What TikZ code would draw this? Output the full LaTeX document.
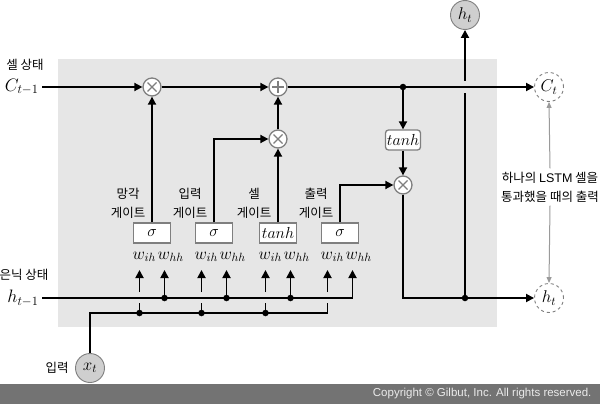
\RequirePackage{fix-cm}
\documentclass[tikz,border=0pt]{standalone}
\usepackage{fontspec}
\setmainfont{Liberation Sans}
\newfontfamily\kofont{Noto Sans CJK KR}
\usetikzlibrary{arrows.meta, positioning}

\definecolor{cellbg}{HTML}{E6E6E6}
\definecolor{opgray}{HTML}{7F7F7F}
\definecolor{iofill}{HTML}{CFCFCF}
\definecolor{barbg}{HTML}{737373}
\definecolor{notegray}{HTML}{9A9A9A}

\begin{document}
\begin{tikzpicture}[
    x=1pt, y=-1pt,
    line/.style={line width=1.8pt, black},
    arrow/.style={line, -{Triangle[length=8pt, width=8pt]}},
    dot/.style={circle, fill=black, inner sep=0pt, minimum size=6.5pt},
    op/.style={circle, draw=opgray, line width=1.3pt, fill=white,
        minimum size=18pt, inner sep=0pt},
    mult/.style={op, path picture={
        \draw[opgray, line width=1.4pt]
            ([shift={(-4.5,-4.5)}]path picture bounding box.center) -- ++(9,9)
            ([shift={(-4.5,4.5)}]path picture bounding box.center) -- ++(9,-9);}},
    add/.style={op, path picture={
        \draw[opgray, line width=1.4pt]
            ([shift={(-6,0)}]path picture bounding box.center) -- ++(12,0)
            ([shift={(0,-6)}]path picture bounding box.center) -- ++(0,12);}},
    gate/.style={rectangle, draw=opgray, line width=1.3pt, fill=white,
        minimum width=37pt, minimum height=20pt, inner sep=0pt,
        font=\fontsize{16}{18}\selectfont},
    act/.style={gate, rounded corners=3pt, minimum width=35pt},
    io/.style={circle, draw=opgray, line width=0.9pt, fill=iofill,
        minimum size=29pt, inner sep=0pt, font=\fontsize{17}{19}\selectfont},
    outcirc/.style={io, fill=white, dashed},
    label/.style={font=\kofont\fontsize{12.5}{19}\selectfont, align=center},
    wlabel/.style={anchor=base west, inner sep=0pt, font=\fontsize{17}{19}\selectfont},
    note/.style={font=\kofont\fontsize{12.5}{19}\selectfont, align=center},
]

\useasboundingbox (0,0) rectangle (600,404);

% 셀 영역
\fill[cellbg] (58,59) rectangle (497,327);

% 셀 상태 경로
\node[mult] (fmul) at (152,87) {};
\node[add]  (add)  at (278,87) {};
\node[mult] (imul) at (278,139) {};
\coordinate (csplit) at (403,87);
\node[act]  (tanhc) at (403,140) {$tanh$};
\node[mult] (omul) at (403,185) {};

% 입출력
\node[label] at (25,65) {셀 상태};
\node[anchor=east, font=\fontsize{18}{20}\selectfont] (cprev) at (42,87) {$C_{t-1}$};
\node[label] at (24,275) {은닉 상태};
\node[anchor=east, font=\fontsize{18}{20}\selectfont] (hprev) at (42,298) {$h_{t-1}$};
\node[io] (xt) at (90,368) {$x_t$};
\node[label, left=3pt of xt] (xlab) {입력};
\node[io] (htop) at (465,15) {$h_t$};
\node[outcirc] (ct) at (549,87) {$C_t$};
\node[outcirc] (ht) at (549,298) {$h_t$};

% 게이트
\node[gate] (fg) at (152,233) {$\sigma$};
\node[gate] (ig) at (214,233) {$\sigma$};
\node[gate] (cg) at (278,233) {$tanh$};
\node[gate] (og) at (340,233) {$\sigma$};
\node[label, anchor=east] at (149,203) {망각\\게이트};
\node[label, anchor=east] at (211,203) {입력\\게이트};
\node[label, anchor=east] at (275,203) {셀\\게이트};
\node[label, anchor=east] at (337,203) {출력\\게이트};

% 가중치 화살표
\foreach \g/\x in {fg/152, ig/214, cg/278, og/340} {
    \coordinate (\g-ih-top) at (\x-12.5,270);
    \coordinate (\g-ih-low) at (\x-12.5,292);
    \coordinate (\g-ih-stub) at (\x-12.5,303);
    \coordinate (\g-ih-in) at (\x-12.5,313);
    \coordinate (\g-hh-top) at (\x+12.5,270);
    \coordinate (\g-hh-in) at (\x+12.5,298);
    \node[wlabel] at (\x-19.5,259) {$w_{ih}$};
    \node[wlabel] at (\x+5.5,259) {$w_{hh}$};
    \draw[arrow] (\g-ih-low) -- (\g-ih-top);
}
\foreach \g in {fg, ig, cg} {
    \draw[line] (\g-ih-in) -- (\g-ih-stub);
    \draw[arrow] (\g-hh-in) -- (\g-hh-top);
    \node[dot] at (\g-ih-in) {};
    \node[dot] at (\g-hh-in) {};
}

% 은닉 상태 / 입력 선
\draw[arrow] (hprev.east) -| (og-hh-top);
\draw[line] (xt.north) |- (og-ih-in) -- (og-ih-stub);

% 셀 상태 선
\draw[arrow] (cprev.east) -- (fmul.west);
\draw[arrow] (fmul.east) -- (add.west);
\draw[arrow] (add.east) -- (ct.west);
\draw[arrow] (imul.north) -- (add.south);
\draw[arrow] (csplit) -- (tanhc.north);
\draw[arrow] (tanhc.south) -- (omul.north);
\node[dot] at (csplit) {};

% 게이트 출력
\draw[arrow] (fg.north) -- (fmul.south);
\draw[arrow] (ig.north) |- (imul.west);
\draw[arrow] (cg.north) -- (imul.south);
\draw[arrow] (og.north) |- (omul.west);

% 은닉 상태 출력
\coordinate (hsplit) at (465,298);
\coordinate (hgapb) at (465,93);
\coordinate (hgapt) at (465,81);
\draw[line] (omul.south) |- (hsplit);
\draw[arrow] (hsplit) -- (ht.west);
\draw[line] (hsplit) -- (hgapb);
\draw[arrow] (hgapt) -- (htop.south);
\node[dot] at (hsplit) {};

% 출력 설명
\node[note] (lstmnote) at (550,187) {하나의 {\fontspec{Liberation Sans}LSTM} 셀을\\통과했을 때의 출력};
\draw[notegray, line width=1pt, -{Triangle[length=6pt, width=5pt]}]
    (lstmnote.north) -- (ct.south);
\draw[notegray, line width=1pt, -{Triangle[length=6pt, width=5pt]}]
    (lstmnote.south) -- (ht.north);

% 저작권 표시
\fill[barbg] (0,384) rectangle (600,404);
\node[anchor=east, text=white!92!black, font=\fontsize{11.5}{13}\selectfont] (copy)
    at (595,394) {Copyright © Gilbut, Inc. All rights reserved.};

\end{tikzpicture}
\end{document}
